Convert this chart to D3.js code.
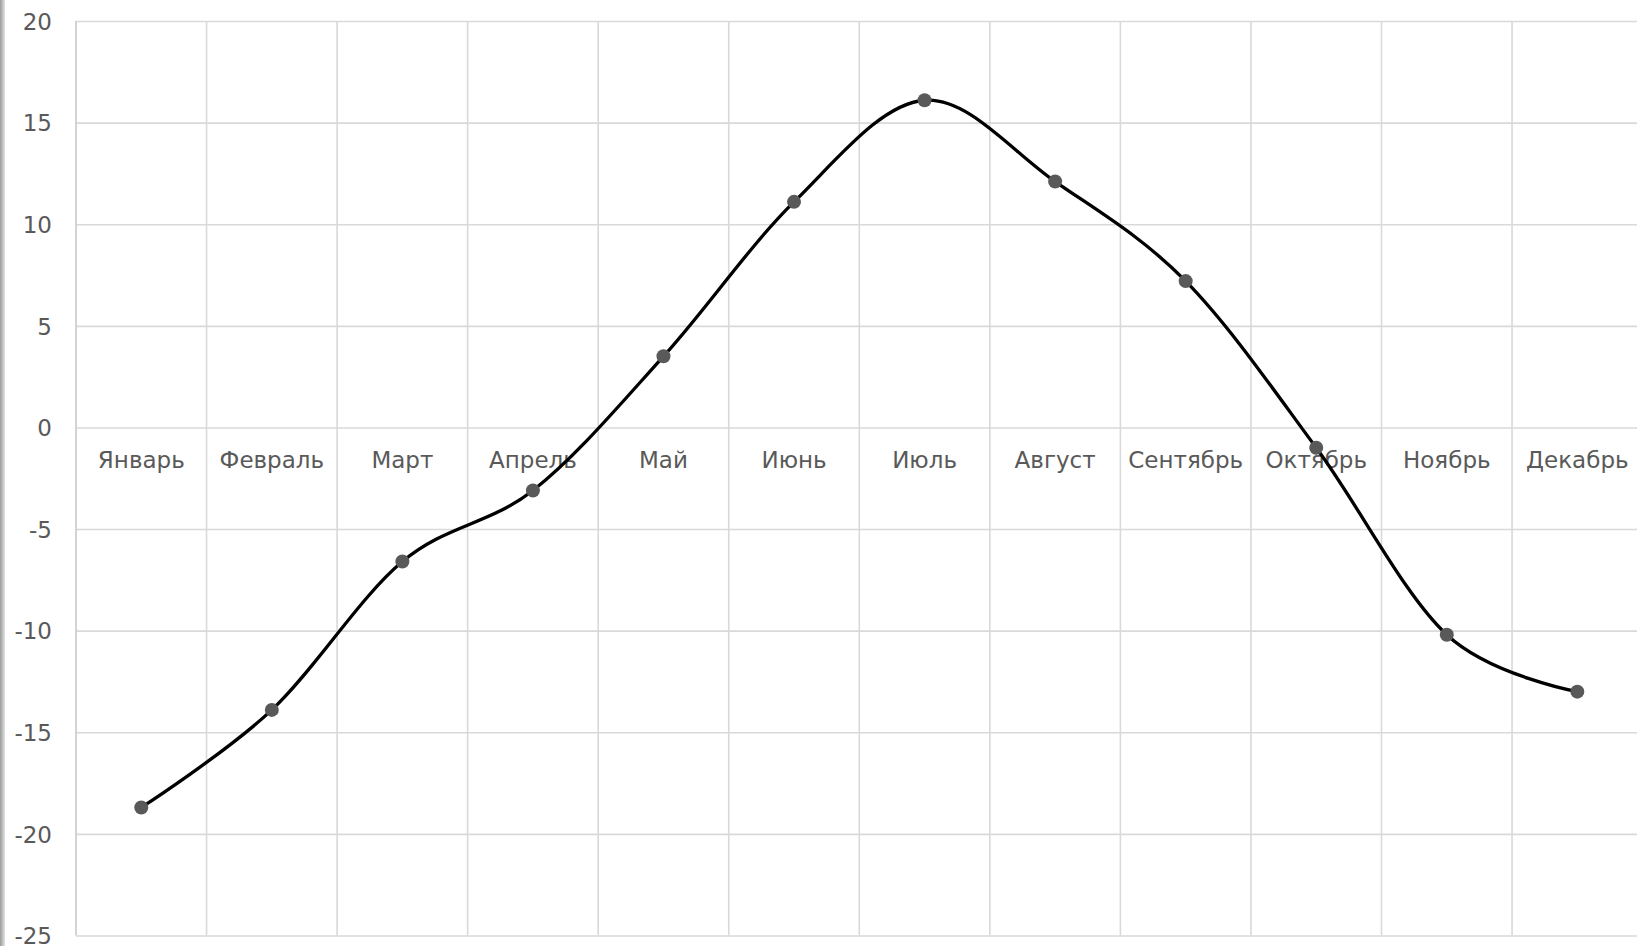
<!DOCTYPE html>
<html>
<head>
<meta charset="utf-8">
<script src="https://cdn.jsdelivr.net/npm/d3@7"></script>
<style>
  html, body { margin: 0; padding: 0; background: #fff; overflow: hidden; }
  svg { display: block; font-family: "DejaVu Sans", Verdana, sans-serif; }
  .grid line { stroke: #d9d9d9; stroke-width: 1.6; }
  .y-axis text, .cat-label { fill: #595959; font-size: 23px; }
</style>
</head>
<body>
<svg id="chart" width="1637" height="946"></svg>
<script>
const months = ["Январь", "Февраль", "Март", "Апрель", "Май", "Июнь",
  "Июль", "Август", "Сентябрь", "Октябрь", "Ноябрь", "Декабрь"];
const temps = [-18.7, -13.9, -6.6, -3.1, 3.5, 11.1, 16.1, 12.1, 7.2, -1.0, -10.2, -13.0];
const yTicks = [-25, -20, -15, -10, -5, 0, 5, 10, 15, 20];

const W = 1637, H = 946;
const plotLeft = 76, bandW = 130.55;
const plotTop = 21, plotBottom = 935.5;

const svg = d3.select("#chart");

// grey strip on the left edge (scan border)
const grad = svg.append("defs").append("linearGradient")
  .attr("id", "edge").attr("x1", 0).attr("x2", 1);
grad.append("stop").attr("offset", 0).attr("stop-color", "#9a9a9a");
grad.append("stop").attr("offset", 1).attr("stop-color", "#e4e4e4");
svg.append("rect").attr("x", 0).attr("y", 0).attr("width", 5).attr("height", H)
  .attr("fill", "url(#edge)");

const x = d3.scaleBand().domain(months).range([plotLeft, plotLeft + bandW * months.length]);
const y = d3.scaleLinear().domain([-25, 20]).range([plotBottom, plotTop]);

// horizontal grid + y labels (plain hyphen minus, like the original)
const yAxis = svg.append("g")
  .attr("class", "y-axis grid")
  .attr("transform", `translate(${plotLeft},0)`)
  .call(d3.axisLeft(y).tickValues(yTicks)
    .tickSize(-(bandW * months.length))
    .tickPadding(24)
    .tickFormat(d => String(d)));
yAxis.select(".domain").remove();
yAxis.selectAll("text").attr("dy", "0.36em").style("font-family", "DejaVu Sans, Verdana, sans-serif");

// vertical grid at category boundaries
svg.append("g").attr("class", "grid")
  .selectAll("line")
  .data(months)
  .join("line")
  .attr("x1", d => x(d) + x.bandwidth())
  .attr("x2", d => x(d) + x.bandwidth())
  .attr("y1", y(20))
  .attr("y2", y(-25));

// left axis line
svg.append("line")
  .attr("x1", plotLeft).attr("x2", plotLeft)
  .attr("y1", y(20)).attr("y2", y(-25))
  .attr("stroke", "#cfcfcf").attr("stroke-width", 1.8);

// category labels under zero line
svg.append("g")
  .selectAll("text")
  .data(months)
  .join("text")
  .attr("class", "cat-label")
  .attr("x", d => x(d) + x.bandwidth() / 2)
  .attr("y", y(0) + 41)
  .attr("text-anchor", "middle")
  .text(d => d);

const pts = months.map((m, i) => ({ m, v: temps[i] }));

const line = d3.line()
  .x(d => x(d.m) + x.bandwidth() / 2)
  .y(d => y(d.v))
  .curve(d3.curveCardinal.tension(0));

svg.append("path")
  .datum(pts)
  .attr("d", line)
  .attr("fill", "none")
  .attr("stroke", "#000")
  .attr("stroke-width", 3.3)
  .attr("stroke-linejoin", "round");

svg.append("g")
  .selectAll("circle")
  .data(pts)
  .join("circle")
  .attr("cx", d => x(d.m) + x.bandwidth() / 2)
  .attr("cy", d => y(d.v))
  .attr("r", 7)
  .attr("fill", "#595959");
</script>
</body>
</html>
